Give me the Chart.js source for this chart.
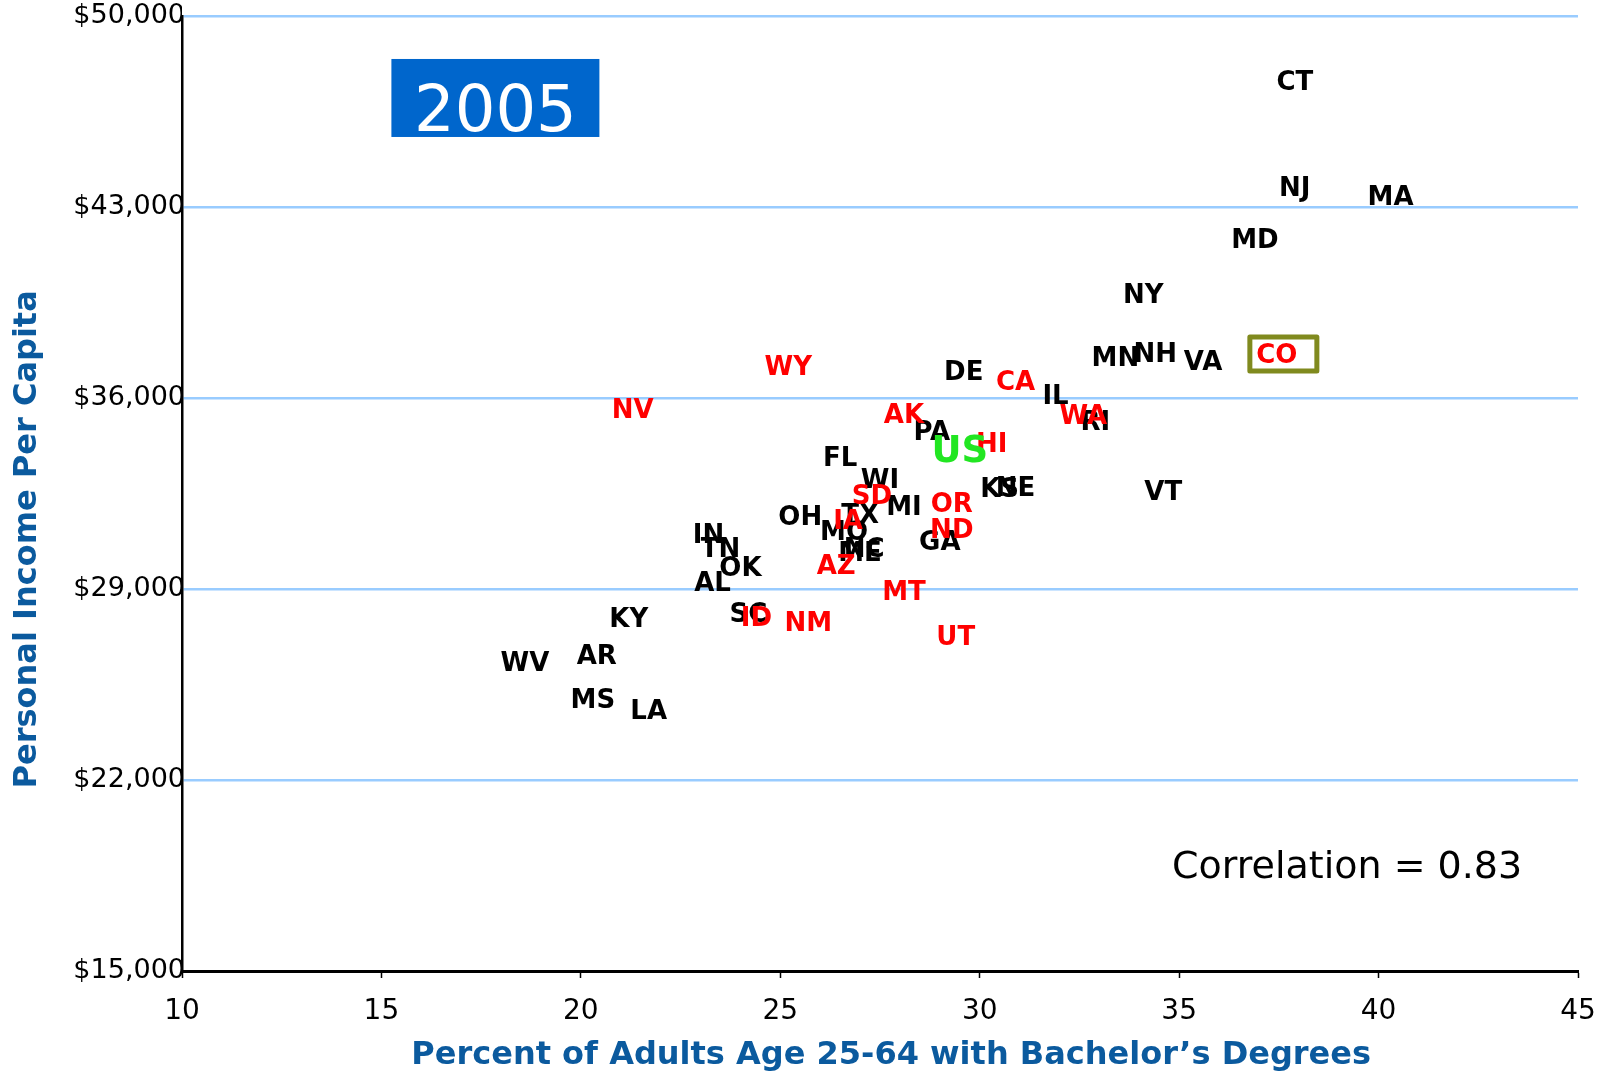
<!DOCTYPE html>
<html>
<head>
<meta charset="utf-8">
<script src="https://cdn.jsdelivr.net/npm/chart.js@4.4.1/dist/chart.umd.min.js"></script>
<style>
  html, body { margin: 0; padding: 0; background: #fff; overflow: hidden; }
  #wrap { width: 1606px; height: 1075px; position: relative; }
</style>
</head>
<body>
<div id="wrap"><canvas id="grafico"></canvas></div>
<script>
// estados (negro)
const estadosNegros = ['CT', 'NJ', 'MA', 'MD', 'NY', 'MN', 'NH', 'VA', 'DE', 'IL', 'RI', 'PA', 'FL', 'WI', 'KS', 'NE', 'VT', 'MI', 'OH', 'TX', 'MO', 'NC', 'ME', 'GA', 'IN', 'TN', 'OK', 'AL', 'KY', 'SC', 'WV', 'AR', 'MS', 'LA'];
const licenciaturaNegros = [37.9, 37.9, 40.3, 36.9, 34.1, 33.4, 34.4, 35.6, 29.6, 31.9, 32.9, 28.8, 26.5, 27.5, 30.5, 30.9, 34.6, 28.1, 25.5, 27.0, 26.6, 27.1, 27.0, 29.0, 23.2, 23.5, 24.0, 23.3, 21.2, 24.2, 18.6, 20.4, 20.3, 21.7];
const ingresoNegros = [47600, 43730, 43390, 41810, 39790, 37500, 37650, 37350, 36970, 36110, 35130, 34790, 33820, 33030, 32690, 32730, 32580, 32050, 31680, 31750, 31110, 30510, 30360, 30740, 31000, 30510, 29800, 29240, 27920, 28110, 26310, 26570, 24950, 24540];

// estados (rojo)
const estadosRojos = ['CO', 'CA', 'WA', 'WY', 'NV', 'AK', 'HI', 'SD', 'OR', 'IA', 'ND', 'AZ', 'MT', 'ID', 'NM', 'UT'];
const licenciaturaRojos = [37.45, 30.9, 32.6, 25.2, 21.3, 28.1, 30.3, 27.3, 29.3, 26.7, 29.3, 26.4, 28.1, 24.4, 25.7, 29.4];
const ingresoRojos = [37610, 36600, 35360, 37160, 35580, 35390, 34340, 32430, 32130, 31530, 31190, 29870, 28900, 27960, 27770, 27280];

// promedio nacional
const nacional = ['US'];
const licenciaturaNacional = [29.5];
const ingresoNacional = [34080];

const ticksX = [10, 15, 20, 25, 30, 35, 40, 45];
const ticksY = [15000, 22000, 29000, 36000, 43000, 50000];

const AZUL_TITULO = '#0b5a9e';
const FUENTE = "'DejaVu Sans', Verdana, sans-serif";

function armarPuntos(xs, ys) {
    return xs.map((x, i) => ({ x: x, y: ys[i] }));
}

// dibuja las siglas de cada estado en la posicion del punto
const etiquetasPlugin = {
    id: 'etiquetasEstados',
    afterDatasetsDraw(chart) {
        const ctx = chart.ctx;
        ctx.save();
        ctx.textAlign = 'center';
        ctx.textBaseline = 'middle';
        chart.data.datasets.forEach((ds, i) => {
            const meta = chart.getDatasetMeta(i);
            ctx.fillStyle = ds.colorTexto;
            ctx.font = ds.fuenteTexto;
            meta.data.forEach((el, j) => {
                ctx.fillText(ds.etiquetas[j], el.x, el.y + 2);
                if (ds.etiquetas[j] === 'CO') {
                    // recuadro alrededor de Colorado
                    ctx.save();
                    ctx.strokeStyle = '#808a1e';
                    ctx.lineWidth = 5;
                    ctx.lineJoin = 'round';
                    ctx.strokeRect(el.x - 27, el.y - 17, 67, 34);
                    ctx.restore();
                }
            });
        });
        ctx.restore();
    }
};

// anotaciones: caja del anio, correlacion y titulos de los ejes
const anotacionesPlugin = {
    id: 'anotaciones',
    afterDraw(chart) {
        const ctx = chart.ctx;
        const area = chart.chartArea;
        const w = area.right - area.left;
        const h = area.bottom - area.top;
        ctx.save();

        const bx = area.left + w * 0.150;
        const by = area.top + h * 0.045;
        ctx.fillStyle = '#0066cc';
        ctx.fillRect(bx, by, 208, 78);
        ctx.fillStyle = '#ffffff';
        ctx.font = '64px ' + FUENTE;
        ctx.textAlign = 'center';
        ctx.textBaseline = 'alphabetic';
        ctx.fillText('2005', bx + 104, by + 72);

        ctx.fillStyle = '#000000';
        ctx.font = '38px ' + FUENTE;
        ctx.textAlign = 'right';
        ctx.textBaseline = 'middle';
        ctx.fillText('Correlation = 0.83', area.left + w * 0.960, area.top + h * 0.8925);

        // titulo eje x (algo corrido a la derecha, como en el original)
        ctx.fillStyle = AZUL_TITULO;
        ctx.font = 'bold 32px ' + FUENTE;
        ctx.textAlign = 'center';
        ctx.textBaseline = 'middle';
        ctx.fillText('Percent of Adults Age 25-64 with Bachelor\u2019s Degrees', area.left + w * 0.508, area.bottom + 85);

        // titulo eje y
        ctx.translate(28, area.top + h * 0.548);
        ctx.rotate(-Math.PI / 2);
        ctx.fillText('Personal Income Per Capita', 0, 0);
        ctx.restore();
    }
};

document.addEventListener('DOMContentLoaded', function() {
    const ctx = document.getElementById('grafico').getContext('2d');
    new Chart(ctx, {
        type: 'scatter',
        data: {
            datasets: [
                {
                    label: 'Estados',
                    data: armarPuntos(licenciaturaNegros, ingresoNegros),
                    etiquetas: estadosNegros,
                    colorTexto: '#000000',
                    fuenteTexto: 'bold 26px ' + FUENTE,
                    pointRadius: 0
                },
                {
                    label: 'Estados (oeste)',
                    data: armarPuntos(licenciaturaRojos, ingresoRojos),
                    etiquetas: estadosRojos,
                    colorTexto: '#ff0000',
                    fuenteTexto: 'bold 26px ' + FUENTE,
                    pointRadius: 0
                },
                {
                    label: 'US',
                    data: armarPuntos(licenciaturaNacional, ingresoNacional),
                    etiquetas: nacional,
                    colorTexto: '#22e622',
                    fuenteTexto: 'bold 37px ' + FUENTE,
                    pointRadius: 0
                }
            ]
        },
        options: {
            responsive: true,
            maintainAspectRatio: false,
            animation: false,
            layout: { padding: { left: 0, right: 28, top: 16, bottom: 0 } },
            plugins: {
                legend: { display: false },
                tooltip: { enabled: false }
            },
            scales: {
                x: {
                    type: 'linear',
                    min: 10,
                    max: 45,
                    afterBuildTicks: function(scale) {
                        scale.ticks = ticksX.map(v => ({ value: v }));
                    },
                    afterFit: function(scale) {
                        scale.height = 104;
                        scale.paddingLeft = 0;
                        scale.paddingRight = 0;
                    },
                    grid: {
                        display: true,
                        drawOnChartArea: false,
                        drawTicks: true,
                        tickLength: 7,
                        tickColor: '#000',
                        tickWidth: 1.5
                    },
                    border: { display: true, color: '#000', width: 3 },
                    ticks: {
                        color: '#000',
                        padding: 17,
                        maxRotation: 0,
                        font: { family: FUENTE, size: 28 }
                    },
                    title: { display: false }
                },
                y: {
                    type: 'linear',
                    min: 15000,
                    max: 50000,
                    afterBuildTicks: function(scale) {
                        scale.ticks = ticksY.map(v => ({ value: v }));
                    },
                    afterFit: function(scale) {
                        scale.width = 182;
                    },
                    grid: {
                        color: '#99ccff',
                        lineWidth: 2.5,
                        drawTicks: false
                    },
                    border: { display: true, color: '#000', width: 2.5 },
                    ticks: {
                        color: '#000',
                        padding: -3,
                        font: { family: FUENTE, size: 27 },
                        callback: function(value) {
                            return '$' + value.toLocaleString('en-US');
                        }
                    }
                }
            }
        },
        plugins: [etiquetasPlugin, anotacionesPlugin]
    });
});
</script>
</body>
</html>
